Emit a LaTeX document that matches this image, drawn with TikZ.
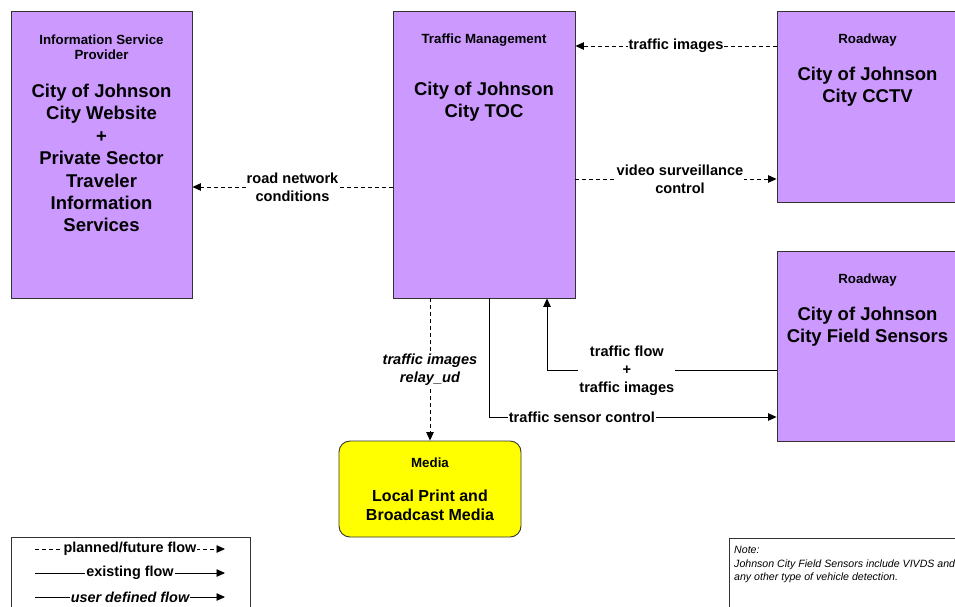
\documentclass[tikz,border=0pt]{standalone}
\usepackage{fontspec}
\setmainfont{Liberation Sans}
\usetikzlibrary{arrows.meta}
\definecolor{boxpurple}{HTML}{CC99FF}
\definecolor{mediayellow}{HTML}{FFFF00}
\definecolor{edge}{HTML}{333333}
\begin{document}
\begin{tikzpicture}[x=1pt,y=-1pt,
  box/.style={draw=edge, fill=boxpurple, line width=0.9pt, inner sep=0pt},
  ttl/.style={font=\bfseries\fontsize{13.3}{15}\selectfont, align=center, inner sep=0pt},
  big/.style={font=\bfseries\fontsize{18.5}{22.4}\selectfont, align=center, inner sep=0pt},
  lbl/.style={font=\bfseries\fontsize{14.6}{17.8}\selectfont, align=center, fill=white, inner sep=1pt},
  flow/.style={line width=0.9pt, -{Triangle[length=8.5pt,width=7.5pt]}},
  fut/.style={flow, dash pattern=on 4pt off 3pt},
  leg/.style={font=\bfseries\fontsize{14.4}{17}\selectfont, fill=white, inner sep=1pt}]
\useasboundingbox (0,0) rectangle (955,606);

% boxes
\node[box, minimum width=181pt, minimum height=287pt] (isp) at (101.5,154.5) {};
\node[box, minimum width=182pt, minimum height=287pt] (toc) at (484,154.5) {};
\node[box, minimum width=181pt, minimum height=191pt] (cctv) at (867.5,106.5) {};
\node[box, minimum width=181pt, minimum height=190pt] (field) at (867.5,346) {};
\node[draw=edge, fill=mediayellow, line width=0.9pt, rounded corners=11pt,
      minimum width=182pt, minimum height=96pt] (media) at (430,489) {};

% box texts
\node[ttl] (ispt) at (101.5,47.5) {Information Service\\Provider};
\node[big] (ispb) at (101.5,158) {City of Johnson\\City Website\\+\\Private Sector\\Traveler\\Information\\Services};
\node[ttl] (toct) at (484,40) {Traffic Management};
\node[big] (tocb) at (484,102) {City of Johnson\\City TOC};
\node[ttl] (cctvt) at (867.5,40) {Roadway};
\node[big] (cctvb) at (867.5,87) {City of Johnson\\City CCTV};
\node[ttl] (fieldt) at (867.5,280) {Roadway};
\node[big] (fieldb) at (867.5,326.5) {City of Johnson\\City Field Sensors};
\node[ttl] (mediat) at (430,463) {Media};
\node[font=\bfseries\fontsize{16}{19}\selectfont, align=center, inner sep=0pt] (mediab) at (430,505) {Local Print and\\Broadcast Media};

% connectors
\draw[fut] (toc.west |- 0,187) -- node[lbl] {road network\\conditions} (isp.east |- 0,187);
\draw[fut] (cctv.west |- 0,46) -- node[lbl] {traffic images} (toc.east |- 0,46);
\draw[fut] (toc.east |- 0,179) -- node[lbl, xshift=4pt] {video surveillance\\control} (cctv.west |- 0,179);
\draw[fut] (toc.south -| 430,0) -- node[lbl, font=\bfseries\itshape\fontsize{14.6}{17.8}\selectfont] {traffic images\\relay\_ud} (media.north);
\coordinate (fbend) at (547,370);
\draw[flow] (field.west |- fbend) -- node[lbl, pos=0.652, yshift=-1pt] {traffic flow\\+\\traffic images} (fbend) -- (toc.south -| fbend);
\coordinate (sbend) at (489,417);
\draw[flow] (toc.south -| sbend) -- (sbend) -- node[lbl, pos=0.323] {traffic sensor control} (field.west |- sbend);

% legend
\draw[edge, line width=0.9pt] (11,537) rectangle (250,640);
\coordinate (l1a) at (35,549); \coordinate (l1b) at (225,549);
\coordinate (l2a) at (35,573); \coordinate (l2b) at (225,573);
\coordinate (l3a) at (35,597); \coordinate (l3b) at (225,597);
\draw[fut] (l1a) -- node[leg] {planned/future flow} (l1b);
\draw[flow] (l2a) -- node[leg] {existing flow} (l2b);
\draw[flow] (l3a) -- node[leg, font=\bfseries\itshape\fontsize{14.4}{17}\selectfont] {user defined flow} (l3b);

% note
\draw[edge, line width=0.9pt] (729,538) rectangle (980,640);
\node[anchor=north west, align=left, inner sep=0pt, font=\itshape\fontsize{10.6}{13.5}\selectfont] (note) at (734,546) {Note:\\Johnson City Field Sensors include VIVDS and\\any other type of vehicle detection.};
\end{tikzpicture}
\end{document}
